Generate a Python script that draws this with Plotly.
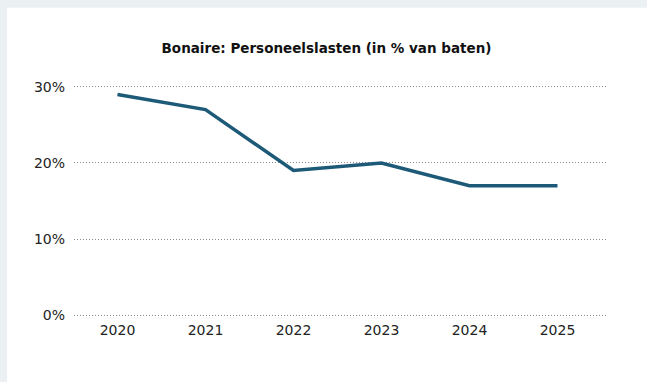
import plotly.graph_objects as go

years = ["2020", "2021", "2022", "2023", "2024", "2025"]
personeelslasten = [29, 27, 19, 20, 17, 17]
y_ticks = [0, 10, 20, 30]
y_tick_labels = ["0%", "10%", "20%", "30%"]

W, H = 647, 382
px_per_unit = 7.6
pad = 0.5
left, right = 74, 608
top = 87 - pad * px_per_unit
bottom = 315 + pad * px_per_unit

fig = go.Figure(
    go.Scatter(
        x=years,
        y=personeelslasten,
        mode="lines",
        line=dict(color="#1d5a78", width=3.5),
        hoverinfo="skip",
    )
)

fig.update_layout(
    width=W,
    height=H,
    margin=dict(l=left, r=W - right, t=top, b=H - bottom),
    paper_bgcolor="#ebf0f3",
    plot_bgcolor="white",
    showlegend=False,
    font=dict(family="DejaVu Sans", size=14, color="#222222"),
    title=dict(
        text="<b>Bonaire: Personeelslasten (in % van baten)</b>",
        x=326.5 / W,
        xanchor="center",
        y=1 - 48 / H,
        yanchor="middle",
        font=dict(family="DejaVu Sans", size=13.5, color="#111111"),
    ),
    shapes=[
        dict(
            type="rect",
            xref="paper",
            yref="paper",
            x0=(7 - left) / (right - left),
            x1=(W - left) / (right - left) + 0.01,
            y0=-(H - bottom) / (bottom - top) - 0.01,
            y1=1 + (top - 8) / (bottom - top),
            fillcolor="white",
            line=dict(width=0),
            layer="below",
        )
    ],
    xaxis=dict(
        type="category",
        range=[-0.494, 5.574],
        showgrid=False,
        zeroline=False,
        showline=False,
        ticks="",
        ticklabelstandoff=1,
        tickfont=dict(size=14, color="#222222"),
        fixedrange=True,
    ),
    yaxis=dict(
        range=[-pad, 30 + pad],
        tickvals=y_ticks,
        ticktext=y_tick_labels,
        showgrid=True,
        gridcolor="#8c8c8c",
        griddash="1px,2px",
        gridwidth=1,
        zeroline=False,
        showline=False,
        ticks="",
        ticklabelstandoff=8,
        tickfont=dict(size=14, color="#222222"),
        fixedrange=True,
    ),
)

fig.write_html("out.html", config={"displayModeBar": False})
